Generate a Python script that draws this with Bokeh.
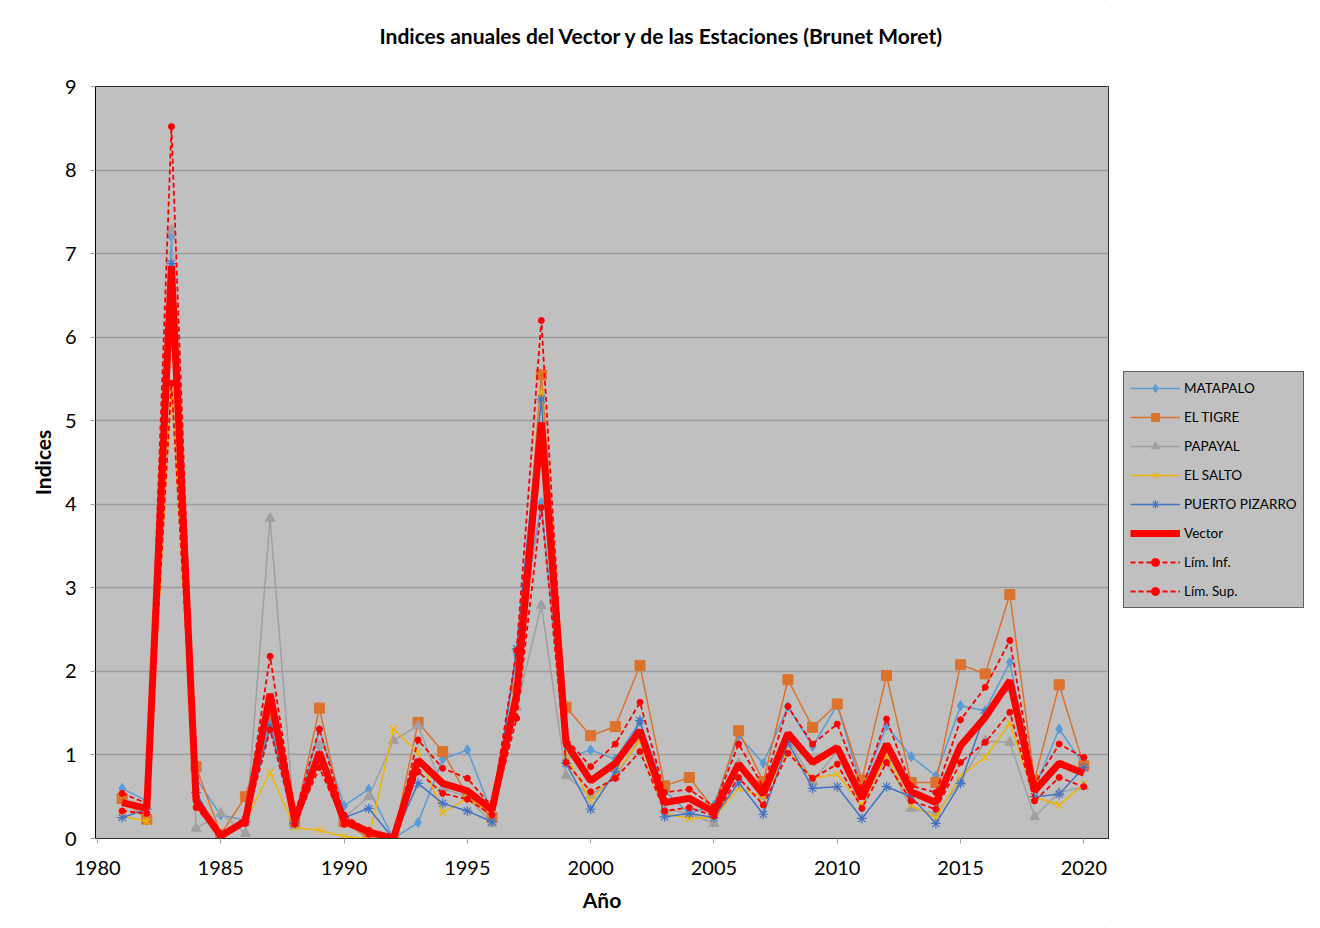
import math
from bokeh.plotting import figure
from bokeh.layouts import row
from bokeh.models import Legend, LegendItem, FixedTicker, Range1d, Title
from bokeh.embed import file_html
from bokeh.resources import INLINE

nan = float("nan")
years = list(range(1981, 2021))
matapalo = [0.60, 0.45, 7.20, 0.72, 0.28, 0.22, 1.45, 0.22, 1.30, 0.39,
            0.59, 0.00, 0.19, 0.95, 1.06, 0.30, 2.20, 4.02, 0.96, 1.06,
            0.95, 1.40, 0.57, 0.30, 0.40, 1.23, 0.90, 1.58, 1.10, 1.60,
            0.60, 1.35, 0.98, 0.75, 1.59, 1.53, 2.11, 0.60, 1.31, 0.88]
el_tigre = [0.48, 0.23, 6.10, 0.86, 0.05, 0.50, 1.50, 0.20, 1.56, 0.20,
            0.00, 0.00, 1.39, 1.04, 0.51, 0.25, 1.80, 5.55, 1.57, 1.23,
            1.34, 2.07, 0.63, 0.73, 0.35, 1.29, 0.68, 1.90, 1.33, 1.61,
            0.70, 1.95, 0.67, 0.67, 2.08, 1.97, 2.92, 0.70, 1.84, 0.87]
papayal = [nan, nan, 7.28, 0.12, 0.30, 0.06, 3.83, 0.15, 1.11, 0.25,
           0.50, 1.17, 1.35, 0.60, 0.50, 0.18, 1.57, 2.79, 0.75, 0.51,
           0.73, 1.20, 0.35, 0.30, 0.18, 0.90, 0.50, 1.20, 0.68, 1.05,
           0.50, 0.95, 0.36, 0.30, 0.68, 1.17, 1.15, 0.26, 0.55, 0.62]
el_salto = [0.27, 0.20, 5.45, 0.43, 0.00, 0.20, 0.79, 0.13, 0.10, 0.02,
            0.00, 1.31, 1.03, 0.31, 0.48, 0.30, 1.70, 5.34, 1.00, 0.45,
            0.78, 1.17, 0.30, 0.24, 0.25, 0.60, 0.50, 1.05, 0.72, 0.77,
            0.40, 1.00, 0.40, 0.25, 0.75, 0.97, 1.38, 0.50, 0.40, 0.65]
puerto_pizarro = [0.25, 0.35, 6.88, 0.55, 0.03, 0.20, 1.35, 0.18, 1.00, 0.25,
                  0.36, 0.00, 0.66, 0.42, 0.33, 0.20, 2.27, 5.26, 0.90, 0.35,
                  0.80, 1.41, 0.26, 0.30, 0.25, 0.67, 0.29, 1.15, 0.60, 0.62,
                  0.24, 0.62, 0.50, 0.18, 0.66, 1.50, 1.80, 0.50, 0.53, 0.85]
vector = [0.43, 0.36, 6.85, 0.45, 0.03, 0.21, 1.73, 0.21, 1.03, 0.21,
          0.08, 0.00, 0.94, 0.66, 0.57, 0.34, 1.73, 4.98, 1.14, 0.69,
          0.90, 1.29, 0.43, 0.48, 0.32, 0.89, 0.53, 1.26, 0.91, 1.09,
          0.48, 1.13, 0.56, 0.43, 1.11, 1.45, 1.89, 0.57, 0.90, 0.78]
lim_inf = [0.33, 0.30, 5.45, 0.37, 0.02, 0.18, 1.30, 0.17, 0.85, 0.17,
           0.05, 0.00, 0.80, 0.54, 0.47, 0.28, 1.44, 3.96, 0.91, 0.56,
           0.72, 1.04, 0.33, 0.37, 0.27, 0.73, 0.40, 1.02, 0.72, 0.89,
           0.36, 0.91, 0.45, 0.35, 0.91, 1.15, 1.51, 0.45, 0.73, 0.62]
lim_sup = [0.54, 0.42, 8.52, 0.50, 0.05, 0.25, 2.18, 0.28, 1.31, 0.28,
           0.10, 0.00, 1.18, 0.84, 0.72, 0.38, 2.25, 6.20, 1.20, 0.86,
           1.13, 1.63, 0.55, 0.59, 0.38, 1.13, 0.62, 1.58, 1.13, 1.37,
           0.60, 1.43, 0.63, 0.55, 1.42, 1.81, 2.37, 0.65, 1.13, 0.97]
x_ticks = [1980, 1985, 1990, 1995, 2000, 2005, 2010, 2015, 2020]
y_ticks = [0, 1, 2, 3, 4, 5, 6, 7, 8, 9]

FONT = "Lato"
RED = "#ff0000"

p = figure(width=1110, height=928, x_range=Range1d(1979.92, 2021.0), y_range=Range1d(0, 9),
           output_backend="svg", toolbar_location=None,
           min_border_left=95, min_border_right=2, min_border_top=86, min_border_bottom=90,
           title="Indices anuales del Vector y de las Estaciones (Brunet Moret)")
p.background_fill_color = "#c0c0c0"
p.border_fill_color = "white"
p.outline_line_color = "#303030"
p.outline_line_width = 1

p.title.text_font = FONT
p.title.text_font_size = "21px"
p.title.text_font_style = "bold"
p.title.text_color = "black"
p.title.align = "left"
p.title.offset = 284
p.title.standoff = 0
# empty spacer panel between the title and the plot area
spacer = Title(text=" ", text_font_size="10px", standoff=26)
p.above = [spacer] + list(p.above)

p.xgrid.visible = False
p.ygrid.grid_line_color = "#9c9c9c"
p.ygrid.grid_line_width = 1.5
p.ygrid.ticker = FixedTicker(ticks=y_ticks)

p.xaxis.ticker = FixedTicker(ticks=x_ticks)
p.yaxis.ticker = FixedTicker(ticks=y_ticks)
for ax in (p.xaxis[0], p.yaxis[0]):
    ax.major_label_text_font = FONT
    ax.major_label_text_font_size = "20px"
    ax.major_label_text_color = "black"
    ax.axis_label_text_font = FONT
    ax.axis_label_text_font_size = "21px"
    ax.axis_label_text_font_style = "bold"
    ax.axis_label_text_color = "black"
    ax.minor_tick_line_color = None
    ax.major_tick_in = 0
    ax.major_tick_out = 5
p.xaxis.axis_label = "Año"
p.yaxis.axis_label = "Indices"
p.xaxis.axis_line_color = "#303030"
p.xaxis.major_tick_line_color = "#a0a0a0"
p.yaxis.axis_line_color = "black"
p.yaxis.major_tick_line_color = "#a0a0a0"
p.xaxis.major_label_standoff = 17
p.yaxis.major_label_standoff = 14
p.xaxis.axis_label_standoff = 9
p.yaxis.axis_label_standoff = 7

# legend-only figure on the right (its ranges keep the copies of the series out of view)
q = figure(width=210, height=928, x_range=Range1d(0, 1), y_range=Range1d(100, 101),
           output_backend="svg", toolbar_location=None,
           min_border_left=0, min_border_right=0, min_border_top=0, min_border_bottom=0)
q.axis.visible = False
q.grid.visible = False
q.outline_line_color = None
q.background_fill_color = "white"
q.border_fill_color = "white"

items = []

def station(name, ys, color, marker, size, mlw=1.0):
    p.line(years, ys, line_color=color, line_width=1.5)
    p.scatter(years, ys, marker=marker, size=size, line_color=color,
              fill_color=color, line_width=mlw)
    l1 = q.line(years, ys, line_color=color, line_width=1.5)
    l2 = q.scatter(years, ys, marker=marker, size=size, line_color=color,
                   fill_color=color, line_width=mlw)
    items.append(LegendItem(label=name, renderers=[l1, l2]))

station("MATAPALO", matapalo, "#5b9bd5", "diamond", 10)
station("EL TIGRE", el_tigre, "#dc722c", "square", 10)
station("PAPAYAL", papayal, "#a0a0a0", "triangle", 10)
station("EL SALTO", el_salto, "#f0b400", "x", 10, 1.2)
station("PUERTO PIZARRO", puerto_pizarro, "#4472c4", "asterisk", 10, 1.2)

p.line(years, vector, line_color=RED, line_width=7)
lv = q.line(years, vector, line_color=RED, line_width=7)
items.append(LegendItem(label="Vector", renderers=[lv]))
for name, ys in (("Lím. Inf.", lim_inf), ("Lím. Sup.", lim_sup)):
    p.line(years, ys, line_color=RED, line_width=1.8, line_dash="5 3")
    p.scatter(years, ys, marker="circle", size=6, line_color=RED, fill_color=RED)
    l1 = q.line(years, ys, line_color=RED, line_width=1.8, line_dash="5 3")
    l2 = q.scatter(years, ys, marker="circle", size=6, line_color=RED, fill_color=RED)
    items.append(LegendItem(label=name, renderers=[l1, l2]))

legend = Legend(items=items, location=(13, 230))
legend.background_fill_color = "#c0c0c0"
legend.background_fill_alpha = 1.0
legend.border_line_color = "black"
legend.border_line_width = 1
legend.label_text_font = FONT
legend.label_text_font_size = "13.5px"
legend.label_text_color = "black"
legend.glyph_width = 50
legend.glyph_height = 20
legend.label_height = 20
legend.spacing = 9
legend.padding = 6
legend.margin = 0
legend.label_standoff = 4
q.add_layout(legend, "center")

layout = row(p, q, spacing=0)
layout.styles = {"outline": "1px solid #d0d0d0", "outline-offset": "-8px"}

open("out.html", "w").write(file_html(layout, INLINE))
